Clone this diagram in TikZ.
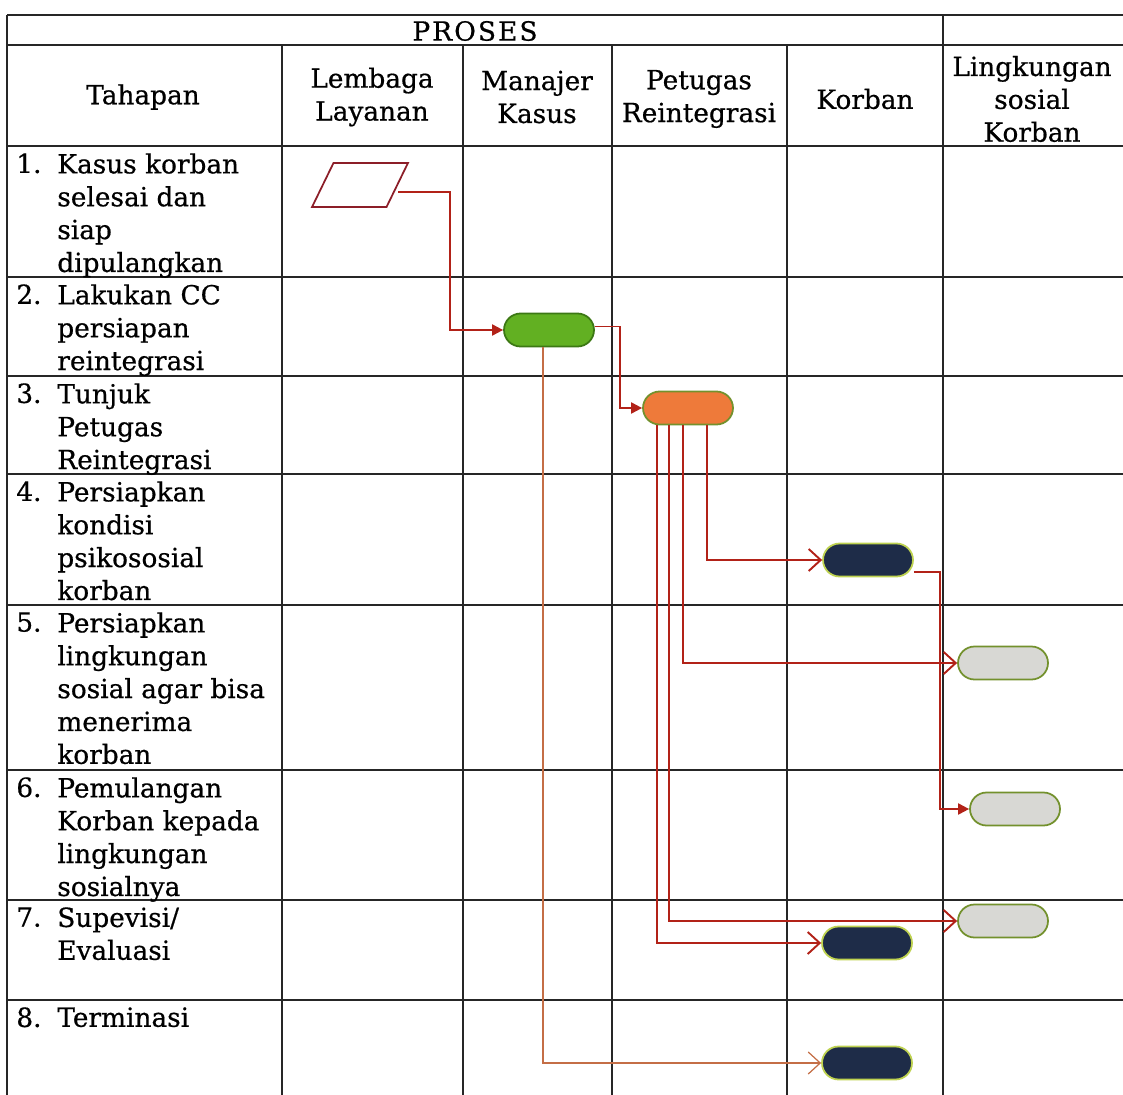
\documentclass[tikz,border=0pt]{standalone}
\usepackage{fontspec}
\setmainfont{DejaVu Serif}[FakeBold=0.6]
\usetikzlibrary{arrows.meta,shapes.geometric}
\definecolor{flowred}{RGB}{178,34,24}
\definecolor{linktan}{RGB}{196,110,70}
\definecolor{pillgreen}{RGB}{98,176,34}
\definecolor{rimgreen}{RGB}{60,120,20}
\definecolor{pillorange}{RGB}{238,122,58}
\definecolor{pillnavy}{RGB}{30,44,72}
\definecolor{rimnavy}{RGB}{190,210,80}
\definecolor{pillgrey}{RGB}{216,216,212}
\definecolor{rimolive}{RGB}{115,145,45}
\definecolor{paraline}{RGB}{140,30,40}

\def\Grid{
    % table frame
    \draw[tableline] (7,15) -- (1123,15);
    \draw[tableline] (7,45) -- (1123,45);
    \foreach \y in {146,277,376,474,605,770,900,1000}
        \draw[tableline] (7,\y) -- (1123,\y);
    \draw[tableline] (7,15) -- (7,1095);
    \draw[tableline] (943,15) -- (943,1095);
    \foreach \x in {282,463,612,787}
        \draw[tableline] (\x,45) -- (\x,1095);
}

\begin{document}
\begin{tikzpicture}[x=0.02cm,y=-0.02cm,
    font=\fontsize{15pt}{18.7pt}\selectfont,
    tableline/.style={line width=1.3pt,black!85},
    headtext/.style={align=center,inner sep=0pt},
    stagetext/.style={align=left,anchor=north west,inner sep=0pt},
    pill/.style={rectangle,rounded corners=0.33cm,minimum width=1.8cm,minimum height=0.66cm,line width=1pt},
    para/.style={trapezium,trapezium left angle=68,trapezium right angle=112,trapezium stretches=true,
        minimum width=1.92cm,minimum height=0.88cm,draw=paraline,line width=1pt,fill=white},
    solidarrow/.style={flowred,line width=1.1pt,-{Triangle[length=2.2mm,width=2.2mm]}},
    openarrow/.style={flowred,line width=1.1pt,-{Straight Barb[length=2.4mm,width=4.4mm]}},
    thinlink/.style={linktan,line width=0.7pt,-{Straight Barb[length=2.4mm,width=4.4mm]}}]
    \useasboundingbox (0,0) rectangle (1123,1095);
    \Grid

    \node[headtext] (proses) at (475,31) {\addfontfeature{LetterSpace=8}PROSES};
    \node[headtext] (tahapan) at (143,97) {Tahapan};
    \node[headtext] (lembagaH) at (372,97) {Lembaga\\Layanan};
    \node[headtext] (manajerH) at (537,97) {Manajer\\Kasus};
    \node[headtext] (petugasH) at (699,99) {Petugas\\Reintegrasi};
    \node[headtext] (korbanH) at (865,99) {Korban};
    \node[headtext] (sosialH) at (1032,99) {Lingkungan\\sosial\\Korban};

    \foreach \top/\k/\txt in {146/1/{Kasus korban\\selesai dan\\siap\\dipulangkan},
        277/2/{Lakukan CC\\persiapan\\reintegrasi},
        376/3/{Tunjuk\\Petugas\\Reintegrasi},
        474/4/{Persiapkan\\kondisi\\psikososial\\korban},
        605/5/{Persiapkan\\lingkungan\\sosial agar bisa\\menerima\\korban},
        770/6/{Pemulangan\\Korban kepada\\lingkungan\\sosialnya},
        900/7/{Supevisi/\\Evaluasi},
        1000/8/{Terminasi}}{
        \node[stagetext] (num\k) at (16,\top+7) {\k.};
        \node[stagetext] (stage\k) at (57,\top+7) {\txt};
    }

    \node[para] (lembaga) at (360,185) {};
    \node[pill,fill=pillgreen,draw=rimgreen] (kasus) at (549,330) {};
    \node[pill,fill=pillorange,draw=rimolive] (petugas) at (688,408) {};
    \node[pill,fill=pillnavy,draw=rimnavy] (korban4) at (868,560) {};
    \node[pill,fill=pillgrey,draw=rimolive] (sosial5) at (1003,663) {};
    \node[pill,fill=pillgrey,draw=rimolive] (sosial6) at (1015,809) {};
    \node[pill,fill=pillgrey,draw=rimolive] (sosial7) at (1003,921) {};
    \node[pill,fill=pillnavy,draw=rimnavy] (korban7) at (867,943) {};
    \node[pill,fill=pillnavy,draw=rimnavy] (korban8) at (867,1063) {};

    \draw[solidarrow] ([yshift=-4pt]lembaga.east) -- ++(52,0) |- (kasus.west);
    \draw[solidarrow] ([yshift=2pt]kasus.east) -- ++(25,0) |- (petugas.west);
    \draw[openarrow] ([xshift=0.38cm]petugas.south) |- (korban4.west);
    \draw[openarrow] ([xshift=-0.1cm]petugas.south) |- (sosial5.west);
    \draw[openarrow] ([xshift=-0.38cm]petugas.south) |- (sosial7.west);
    \draw[openarrow] ([xshift=-0.62cm]petugas.south) |- (korban7.west);
    \draw[solidarrow] ([yshift=-0.24cm]korban4.east) -- ++(26,0) |- (sosial6.west);
    \draw[thinlink] ([xshift=-0.12cm]kasus.south) |- (korban8.west);
\end{tikzpicture}
\end{document}
